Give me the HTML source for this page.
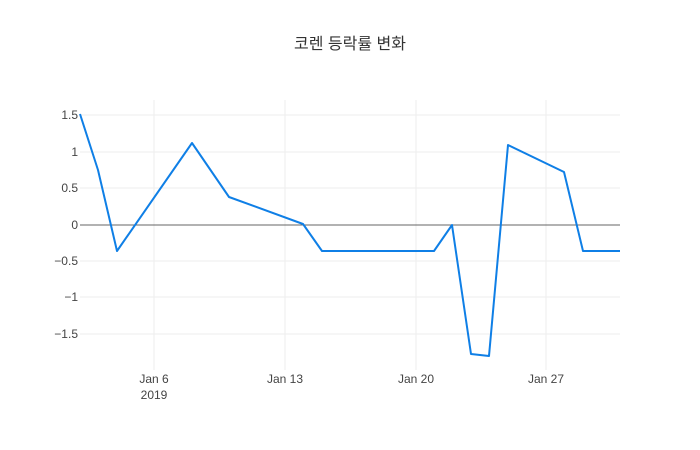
<!DOCTYPE html>
<html><head><meta charset="utf-8"><style>body{margin:0;background:#fff}svg{display:block}</style></head>
<body>
<svg width="700" height="450" xmlns="http://www.w3.org/2000/svg" font-family="'Liberation Sans','Noto Sans CJK KR',sans-serif">
<rect width="700" height="450" fill="#fff"/>
<g stroke="#eee" stroke-width="1">
<line x1="154" y1="100" x2="154" y2="370"/><line x1="285" y1="100" x2="285" y2="370"/>
<line x1="416" y1="100" x2="416" y2="370"/><line x1="546" y1="100" x2="546" y2="370"/>
<line x1="80" y1="115" x2="620" y2="115"/><line x1="80" y1="152" x2="620" y2="152"/>
<line x1="80" y1="188" x2="620" y2="188"/><line x1="80" y1="261" x2="620" y2="261"/>
<line x1="80" y1="297" x2="620" y2="297"/><line x1="80" y1="334" x2="620" y2="334"/>
</g>
<line x1="80" y1="225" x2="620" y2="225" stroke="#333" stroke-width="0.8"/>
<polyline fill="none" stroke="#0f7fe6" stroke-width="2" stroke-linejoin="round" points="80,114 98,170 117,251 192,143 229,197 303,224 322,251 434,251 452,225 471,354 489,356 508,145 564,172 583,251 620,251"/>
<g font-size="12" fill="#444" text-anchor="end">
<text x="78" y="119">1.5</text><text x="78" y="156">1</text><text x="78" y="192">0.5</text>
<text x="78" y="229">0</text><text x="78" y="265">−0.5</text><text x="78" y="301">−1</text><text x="78" y="338">−1.5</text>
</g>
<g font-size="12" fill="#444" text-anchor="middle">
<text x="154" y="383">Jan 6</text><text x="154" y="399">2019</text>
<text x="285" y="383">Jan 13</text><text x="416" y="383">Jan 20</text><text x="546" y="383">Jan 27</text>
</g>
<text x="350" y="49" font-size="16" fill="#333" text-anchor="middle">코렌 등락률 변화</text>
</svg>
</body></html>
